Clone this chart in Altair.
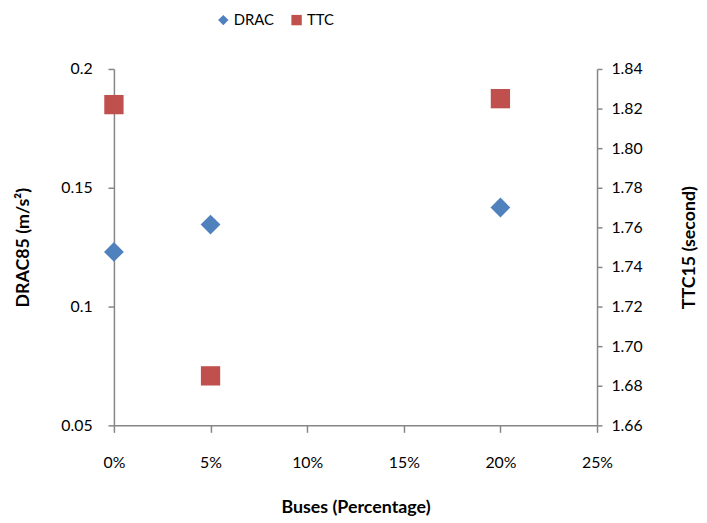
import altair as alt
import pandas as pd

buses = [0.0, 0.05, 0.20]
drac = [0.1230, 0.1345, 0.1417]
ttc = [1.822, 1.685, 1.825]
series_names = ["DRAC", "TTC"]
x_ticks = [0.0, 0.05, 0.10, 0.15, 0.20, 0.25]
left_ticks = [0.05, 0.10, 0.15, 0.20]
right_ticks = [1.66, 1.68, 1.70, 1.72, 1.74, 1.76, 1.78, 1.80, 1.82, 1.84]

df = pd.DataFrame({
    "buses": buses + buses,
    "value": drac + ttc,
    "series": ["DRAC"] * len(buses) + ["TTC"] * len(buses),
})

FONT = "Lato"
color = alt.Color("series:N", scale=alt.Scale(domain=series_names, range=["#4F81BD", "#C0504D"]),
                  legend=alt.Legend(title=None, orient="none", direction="horizontal",
                                    legendX=103, legendY=-57, symbolSize=110,
                                    labelFontSize=15, labelFont=FONT, columnPadding=14,
                                    symbolOpacity=1, labelOffset=3))
shape = alt.Shape("series:N", scale=alt.Scale(domain=series_names, range=["diamond", "square"]))

xenc = alt.X("buses:Q", scale=alt.Scale(domain=[0, 0.25]),
             axis=alt.Axis(format="%", values=x_ticks, title="Buses (Percentage)",
                           tickSize=7, labelPadding=23, titlePadding=28, labelFlush=False))

base = alt.Chart(df)

left = base.transform_filter(alt.datum.series == "DRAC").mark_point(
    filled=True, size=400, opacity=1).encode(
    x=xenc,
    y=alt.Y("value:Q", scale=alt.Scale(domain=[0.05, 0.2], zero=False, nice=False),
            axis=alt.Axis(values=left_ticks, format=".2~f", title="DRAC85 (m/s²)", orient="left",
                          tickSize=6, labelPadding=16, titlePadding=29)),
    color=color, shape=shape)

right = base.transform_filter(alt.datum.series == "TTC").mark_point(
    filled=True, size=380, opacity=1).encode(
    x=xenc,
    y=alt.Y("value:Q", scale=alt.Scale(domain=[1.66, 1.84], zero=False, nice=False),
            axis=alt.Axis(values=right_ticks, format=".2f", title="TTC15 (second)", orient="right",
                          tickSize=5, labelPadding=9, titlePadding=57, titleAngle=-90,
                          titleBaseline="bottom")),
    color=color, shape=shape)

chart = alt.layer(left, right).resolve_scale(y="independent").properties(
    width=488, height=360,
    autosize=alt.AutoSizeParams(type="none"),
    padding={"left": 107, "top": 59, "right": 103, "bottom": 92},
).configure_view(stroke=None).configure_axis(
    grid=False, domainColor="#868686", tickColor="#868686", domainWidth=1.5, tickWidth=1.5,
    labelFont=FONT, labelFontSize=16, labelColor="#000000",
    titleFont=FONT, titleFontSize=18, titleFontWeight="bold", titleColor="#000000",
)

chart.save("out.html", embed_options={"renderer": "svg", "actions": False})
